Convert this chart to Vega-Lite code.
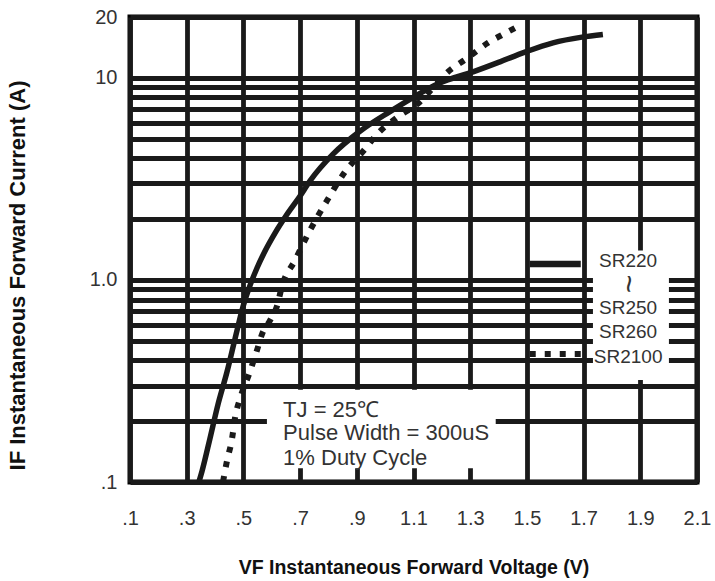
{
  "$schema": "https://vega.github.io/schema/vega-lite/v6.json",
  "width": 567,
  "height": 465,
  "autosize": {"type": "none"},
  "padding": {"left": 130, "top": 17, "right": 18, "bottom": 99},
  "background": "white",
  "view": {"stroke": "black", "strokeWidth": 5},
  "config": {
    "font": "Liberation Sans",
    "axis": {"labelFont": "Liberation Sans", "titleFont": "Liberation Sans"}
  },
  "datasets": {
    "curves": [
      {"series": "SR220~SR250", "V": 0.343, "I": 0.1},
      {"series": "SR220~SR250", "V": 0.354, "I": 0.113},
      {"series": "SR220~SR250", "V": 0.382, "I": 0.164},
      {"series": "SR220~SR250", "V": 0.41, "I": 0.241},
      {"series": "SR220~SR250", "V": 0.442, "I": 0.35},
      {"series": "SR220~SR250", "V": 0.47, "I": 0.508},
      {"series": "SR220~SR250", "V": 0.499, "I": 0.74},
      {"series": "SR220~SR250", "V": 0.524, "I": 0.945},
      {"series": "SR220~SR250", "V": 0.548, "I": 1.145},
      {"series": "SR220~SR250", "V": 0.576, "I": 1.387},
      {"series": "SR220~SR250", "V": 0.611, "I": 1.7},
      {"series": "SR220~SR250", "V": 0.651, "I": 2.083},
      {"series": "SR220~SR250", "V": 0.698, "I": 2.58},
      {"series": "SR220~SR250", "V": 0.735, "I": 3.09},
      {"series": "SR220~SR250", "V": 0.816, "I": 4.19},
      {"series": "SR220~SR250", "V": 0.911, "I": 5.44},
      {"series": "SR220~SR250", "V": 1.017, "I": 6.81},
      {"series": "SR220~SR250", "V": 1.098, "I": 7.99},
      {"series": "SR220~SR250", "V": 1.19, "I": 9.4},
      {"series": "SR220~SR250", "V": 1.31, "I": 10.7},
      {"series": "SR220~SR250", "V": 1.405, "I": 12.0},
      {"series": "SR220~SR250", "V": 1.493, "I": 13.4},
      {"series": "SR220~SR250", "V": 1.592, "I": 14.9},
      {"series": "SR220~SR250", "V": 1.694, "I": 15.9},
      {"series": "SR220~SR250", "V": 1.768, "I": 16.4},
      {"series": "SR260~SR2100", "V": 0.428, "I": 0.1},
      {"series": "SR260~SR2100", "V": 0.442, "I": 0.127},
      {"series": "SR260~SR2100", "V": 0.46, "I": 0.164},
      {"series": "SR260~SR2100", "V": 0.47, "I": 0.206},
      {"series": "SR260~SR2100", "V": 0.488, "I": 0.258},
      {"series": "SR260~SR2100", "V": 0.52, "I": 0.342},
      {"series": "SR260~SR2100", "V": 0.548, "I": 0.449},
      {"series": "SR260~SR2100", "V": 0.566, "I": 0.54},
      {"series": "SR260~SR2100", "V": 0.594, "I": 0.63},
      {"series": "SR260~SR2100", "V": 0.619, "I": 0.746},
      {"series": "SR260~SR2100", "V": 0.636, "I": 0.93},
      {"series": "SR260~SR2100", "V": 0.682, "I": 1.25},
      {"series": "SR260~SR2100", "V": 0.735, "I": 1.76},
      {"series": "SR260~SR2100", "V": 0.795, "I": 2.47},
      {"series": "SR260~SR2100", "V": 0.858, "I": 3.42},
      {"series": "SR260~SR2100", "V": 0.929, "I": 4.44},
      {"series": "SR260~SR2100", "V": 0.971, "I": 5.25},
      {"series": "SR260~SR2100", "V": 1.042, "I": 6.36},
      {"series": "SR260~SR2100", "V": 1.123, "I": 7.62},
      {"series": "SR260~SR2100", "V": 1.169, "I": 8.93},
      {"series": "SR260~SR2100", "V": 1.218, "I": 10.6},
      {"series": "SR260~SR2100", "V": 1.289, "I": 12.5},
      {"series": "SR260~SR2100", "V": 1.363, "I": 14.9},
      {"series": "SR260~SR2100", "V": 1.43, "I": 16.8},
      {"series": "SR260~SR2100", "V": 1.476, "I": 18.2}
    ],
    "boxes": [
      {"box": "legend", "V": 1.733, "V2": 2.001, "I": 0.32, "I2": 1.4},
      {"box": "note", "V": 0.583, "V2": 1.39, "I": 0.117, "I2": 0.286}
    ],
    "keys": [
      {"series": "SR220~SR250", "V": 1.51, "V2": 1.69, "I": 1.2},
      {"series": "SR260~SR2100", "V": 1.51, "V2": 1.69, "I": 0.43}
    ],
    "legendText": [
      {"label": "SR220", "V": 1.857, "I": 1.24},
      {"label": "SR250", "V": 1.857, "I": 0.73},
      {"label": "SR260", "V": 1.857, "I": 0.55},
      {"label": "SR2100", "V": 1.857, "I": 0.415}
    ],
    "legendWave": [
      {"label": "~", "V": 1.857, "I": 0.955}
    ],
    "note": [
      {"label": "TJ = 25℃", "V": 0.64, "I": 0.228},
      {"label": "Pulse Width = 300uS", "V": 0.64, "I": 0.174},
      {"label": "1% Duty Cycle", "V": 0.64, "I": 0.131}
    ]
  },
  "encoding": {
    "x": {
      "field": "V",
      "type": "quantitative",
      "scale": {"domain": [0.1, 2.1], "nice": false, "zero": false},
      "axis": {
        "values": [0.1, 0.3, 0.5, 0.7, 0.9, 1.1, 1.3, 1.5, 1.7, 1.9, 2.1],
        "labelExpr": "datum.value < 1 ? '.' + format(datum.value * 10, 'd') : format(datum.value, '.1f')",
        "grid": true,
        "gridColor": "#1a1a1a",
        "gridWidth": 4.8,
        "gridOpacity": 1,
        "ticks": false,
        "domain": false,
        "labelFontSize": 20,
        "labelColor": "#333333",
        "labelPadding": 26,
        "labelFlush": false,
        "labelOverlap": false,
        "title": "VF Instantaneous Forward Voltage (V)",
        "titleFontSize": 19.5,
        "titleFontWeight": "bold",
        "titleColor": "#111111",
        "titleY": 85,
        "titleBaseline": "middle"
      }
    },
    "y": {
      "field": "I",
      "type": "quantitative",
      "scale": {"type": "log", "domain": [0.1, 20], "nice": false},
      "axis": {
        "values": [0.1, 0.2, 0.3, 0.4, 0.5, 0.6, 0.7, 0.8, 0.9, 1, 2, 3, 4, 5, 6, 7, 8, 9, 10, 20],
        "labelExpr": "datum.value == 0.1 ? '.1' : datum.value == 1 ? '1.0' : (datum.value == 10 || datum.value == 20) ? format(datum.value, 'd') : ''",
        "grid": true,
        "gridColor": "#1a1a1a",
        "gridWidth": 4.8,
        "gridOpacity": 1,
        "ticks": false,
        "domain": false,
        "labelFontSize": 20,
        "labelColor": "#333333",
        "labelPadding": 13,
        "labelOverlap": false,
        "labelBound": false,
        "labelFlush": false,
        "title": "IF Instantaneous Forward Current (A)",
        "titleFontSize": 22,
        "titleFontWeight": "bold",
        "titleColor": "#111111",
        "titleAngle": -90,
        "titleX": -113,
        "titleY": 258,
        "titleAlign": "center",
        "titleBaseline": "middle"
      }
    }
  },
  "layer": [
    {
      "data": {"name": "boxes"},
      "mark": {"type": "rect", "fill": "white", "stroke": null},
      "encoding": {"x2": {"field": "V2"}, "y2": {"field": "I2"}}
    },
    {
      "data": {"name": "curves"},
      "transform": [{"filter": "datum.series == 'SR220~SR250'"}],
      "mark": {"type": "line", "color": "#1a1a1a", "strokeWidth": 5.5, "interpolate": "monotone"},
      "encoding": {}
    },
    {
      "data": {"name": "curves"},
      "transform": [{"filter": "datum.series == 'SR260~SR2100'"}],
      "mark": {"type": "line", "color": "#1a1a1a", "strokeWidth": 6, "strokeDash": [6, 9], "strokeCap": "butt", "interpolate": "monotone"},
      "encoding": {}
    },
    {
      "data": {"name": "keys"},
      "transform": [{"filter": "datum.series == 'SR220~SR250'"}],
      "mark": {"type": "rule", "color": "#1a1a1a", "strokeWidth": 6.5},
      "encoding": {"x2": {"field": "V2"}}
    },
    {
      "data": {"name": "keys"},
      "transform": [{"filter": "datum.series == 'SR260~SR2100'"}],
      "mark": {"type": "rule", "color": "#1a1a1a", "strokeWidth": 6, "strokeDash": [6, 9], "strokeCap": "butt"},
      "encoding": {"x2": {"field": "V2"}}
    },
    {
      "data": {"name": "legendText"},
      "mark": {"type": "text", "fontSize": 19, "color": "#333333", "align": "center", "baseline": "middle"},
      "encoding": {"text": {"field": "label"}}
    },
    {
      "data": {"name": "legendWave"},
      "mark": {"type": "text", "fontSize": 32, "color": "#333333", "align": "center", "baseline": "middle", "angle": 90},
      "encoding": {"text": {"field": "label"}}
    },
    {
      "data": {"name": "note"},
      "mark": {"type": "text", "fontSize": 22, "color": "#333333", "align": "left", "baseline": "middle"},
      "encoding": {"text": {"field": "label"}}
    }
  ]
}
